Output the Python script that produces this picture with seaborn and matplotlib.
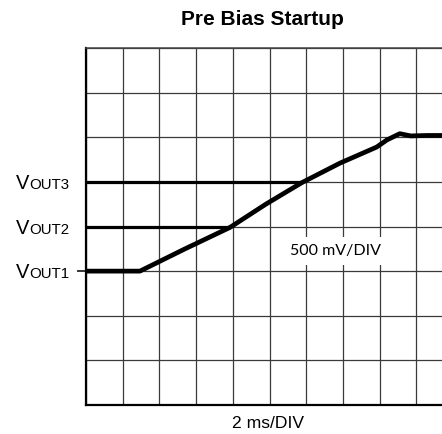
import matplotlib
matplotlib.use("Agg")
import matplotlib.pyplot as plt
import matplotlib.transforms as mtransforms
import pandas as pd
import seaborn as sns

# Scope capture: 2 ms/div horizontally, 500 mV/div vertically
t_div_ms = 2.0
v_div = 0.5
n_xdiv, n_ydiv = 10, 8

# VOUT1 starts from its 1.5 V pre-bias level and ramps to 3.0 V
t_vout1 = [0.0, 2.94, 5.4, 7.85, 9.8, 11.75, 13.84, 15.84, 16.4, 17.1, 17.7, 18.6, 20.0]
v_vout1 = [1.50, 1.50, 1.75, 1.99, 2.25, 2.49, 2.71, 2.89, 2.97, 3.04, 3.015, 3.02, 3.02]
# VOUT2 / VOUT3 hold their pre-bias until the ramp reaches them
t_vout2 = [0.0, 7.85]
v_vout2 = [2.0, 2.0]
t_vout3 = [0.0, 11.75]
v_vout3 = [2.5, 2.5]

rail_names = ["VOUT1", "VOUT2", "VOUT3"]
prebias = [1.5, 2.0, 2.5]
trace_width = {"VOUT1": 3.4, "VOUT2": 2.3, "VOUT3": 2.3}

frames = []
for name, t, v in [("VOUT1", t_vout1, v_vout1),
                   ("VOUT2", t_vout2, v_vout2),
                   ("VOUT3", t_vout3, v_vout3)]:
    frames.append(pd.DataFrame({"t": t, "v": v, "rail": name}))
df = pd.concat(frames, ignore_index=True)

sns.set_style("white")
plt.rcParams["font.family"] = ["Liberation Sans", "DejaVu Sans"]

W, H, DPI = 442, 434, 100
fig = plt.figure(figsize=(W / DPI, H / DPI), dpi=DPI)
# plot area runs past the right edge of the figure
ax = fig.add_axes([86 / W, (H - 405) / H, (453 - 86) / W, (405 - 48) / H])

for name in rail_names:
    sns.lineplot(data=df[df["rail"] == name], x="t", y="v", estimator=None,
                 sort=False, color="black", linewidth=trace_width[name],
                 solid_capstyle="butt", ax=ax, legend=False, zorder=3)

ax.set_xlim(0, n_xdiv * t_div_ms)
ax.set_ylim(0, n_ydiv * v_div)
ax.set_xticks([i * t_div_ms for i in range(n_xdiv + 1)])
ax.set_yticks([i * v_div for i in range(n_ydiv + 1)])
# a single outward marker at the VOUT1 level
ax.yaxis.remove_overlapping_locs = False
ax.set_yticks([prebias[0]], minor=True)
ax.grid(True, which="major", color="#3a3a3a", linewidth=0.9, zorder=1)
ax.tick_params(which="major", length=0, labelleft=False, labelbottom=False)
ax.tick_params(axis="y", which="minor", left=True, length=6.5, width=1.1,
               color="black", direction="out", labelleft=False)
ax.set_xlabel("")
ax.set_ylabel("")

ax.spines["left"].set_linewidth(1.6)
ax.spines["left"].set_color("black")
ax.spines["bottom"].set_linewidth(1.6)
ax.spines["bottom"].set_color("black")
ax.spines["top"].set_linewidth(1.1)
ax.spines["top"].set_color("#444444")
ax.spines["right"].set_visible(False)

# Rail labels at their pre-bias levels, with the OUTn part set smaller
label_tr = mtransforms.blended_transform_factory(fig.transFigure, ax.transData)
label_tr = label_tr + mtransforms.ScaledTranslation(0, -7.3 / DPI, fig.dpi_scale_trans)
for name, level in zip(rail_names, prebias):
    ax.text(16 / W, level, name[0], transform=label_tr, fontsize=14.5,
            ha="left", va="baseline", color="black")
    ax.text(29.5 / W, level, name[1:], transform=label_tr, fontsize=10.8,
            ha="left", va="baseline", color="black")

ax.text(13.57, 1.727, "500 mV/DIV", fontsize=11.5, family=["Lato", "DejaVu Sans"],
        ha="center", va="center", color="black", zorder=4,
        bbox=dict(boxstyle="square,pad=0.45", facecolor="white", edgecolor="none"))

fig.text(262 / W, 1 - 25 / H, "Pre Bias Startup", fontsize=15, fontweight="bold",
         ha="center", va="baseline", color="black")
fig.text(268.5 / W, 1 - 428 / H, "2 ms/DIV", fontsize=12.6,
         ha="center", va="baseline", color="black")

fig.savefig("out.png", dpi=DPI, facecolor="white")
